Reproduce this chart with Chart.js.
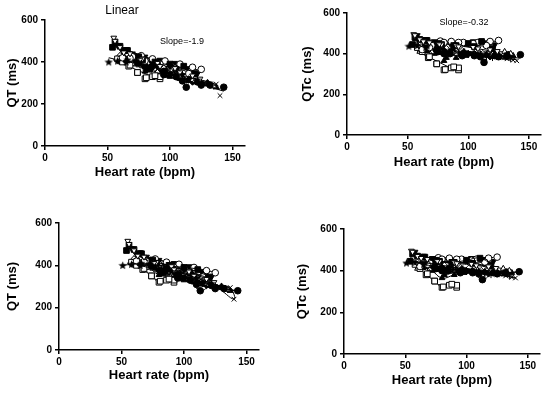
<!DOCTYPE html>
<html><head><meta charset="utf-8">
<script src="https://cdn.jsdelivr.net/npm/chart.js@4"></script>
<style>
body{margin:0;background:#fff;width:550px;height:393px;position:relative;overflow:hidden}
canvas{position:absolute}
</style></head><body>
<canvas id="c1" width="275" height="195" style="left:0;top:0"></canvas>
<canvas id="c2" width="275" height="195" style="left:275px;top:0"></canvas>
<canvas id="c3" width="275" height="198" style="left:0;top:195px"></canvas>
<canvas id="c4" width="275" height="198" style="left:275px;top:195px"></canvas>
<script>
// one row per subject, points in recording order (rest -> peak -> recovery)
const heartRate = [
  [51, 58, 66, 75, 86, 97, 110, 122, 130, 115, 95, 80, 65],
  [55, 56, 60, 68, 78, 90, 104, 118, 124, 108, 92, 76, 63],
  [54, 56, 60, 65, 75, 88, 100, 111, 120, 105, 90, 78, 66],
  [62, 70, 77, 86, 96, 108, 118, 125, 115, 104, 92, 80, 68],
  [60, 68, 80, 90, 100, 112, 122, 132, 137, 140, 125, 105, 85],
  [65, 75, 85, 95, 105, 113, 122, 132, 143, 125, 110, 95, 80],
  [58, 62, 67, 74, 80, 86, 92, 92, 88, 81, 74, 68],
  [58, 64, 70, 80, 92, 104, 114, 122, 116, 100, 85, 72, 62],
  [60, 70, 78, 88, 96, 108, 118, 130, 135, 120, 105, 90, 75],
  [63, 72, 80, 90, 98, 108, 115, 125, 133, 137, 120, 100, 82],
  [60, 66, 72, 80, 88, 96, 105, 115, 125, 118, 100, 85, 70],
  [57, 64, 70, 78, 85, 92, 100, 110, 120, 135, 115, 95, 80],
  [60, 70, 82, 95, 108, 120, 130, 112, 90, 72],
];
const qt = [
  [400, 405, 410, 400, 385, 365, 340, 315, 300, 320, 350, 375, 400],
  [515, 500, 470, 440, 415, 395, 370, 335, 320, 350, 380, 410, 445],
  [470, 495, 475, 455, 425, 400, 390, 380, 345, 365, 385, 410, 455],
  [420, 425, 430, 415, 405, 390, 375, 365, 345, 370, 390, 405, 418],
  [420, 405, 385, 365, 345, 325, 305, 295, 295, 240, 300, 340, 375],
  [410, 395, 375, 355, 330, 280, 305, 290, 280, 290, 310, 340, 380],
  [415, 400, 380, 350, 320, 330, 320, 330, 335, 325, 350, 385],
  [480, 460, 440, 425, 410, 395, 370, 345, 350, 380, 400, 430, 450],
  [400, 390, 380, 365, 350, 330, 315, 300, 285, 310, 335, 355, 385],
  [430, 390, 355, 345, 335, 320, 310, 300, 290, 280, 305, 330, 360],
  [415, 410, 400, 385, 370, 350, 330, 315, 295, 305, 340, 365, 395],
  [410, 400, 395, 385, 380, 365, 350, 330, 310, 285, 320, 355, 375],
  [430, 415, 395, 370, 345, 320, 300, 330, 370, 405],
];
const qtc = [
  [437, 440, 438, 430, 420, 410, 400, 392, 388, 395, 405, 415, 430],
  [495, 490, 470, 455, 445, 440, 432, 420, 412, 425, 435, 445, 460],
  [445, 480, 470, 465, 450, 440, 450, 460, 425, 435, 440, 445, 465],
  [420, 440, 462, 460, 455, 455, 460, 465, 440, 450, 455, 455, 430],
  [420, 415, 410, 405, 400, 395, 385, 375, 368, 365, 380, 395, 405],
  [420, 410, 400, 395, 390, 357, 390, 390, 395, 385, 385, 390, 400],
  [430, 410, 380, 350, 320, 330, 320, 330, 335, 322, 350, 385],
  [490, 470, 455, 455, 455, 460, 455, 445, 440, 450, 450, 460, 470],
  [410, 408, 405, 402, 400, 450, 420, 410, 400, 398, 395, 400, 405],
  [435, 400, 365, 380, 390, 392, 395, 395, 395, 390, 395, 400, 380],
  [425, 425, 420, 415, 410, 405, 400, 392, 385, 385, 398, 405, 415],
  [440, 430, 420, 410, 405, 400, 395, 390, 380, 375, 385, 395, 400],
  [440, 435, 425, 415, 405, 400, 395, 400, 410, 425],
];
const markers = ['star', 'triangle', 'rect', 'circle', 'crossRot', 'circle', 'rect', 'triangle', 'triangle', 'triangle', 'rectRot', 'cross', 'rectRot'];
const rotations = [0, 180, 0, 0, 0, 0, 0, 180, 0, 0, 0, 0, 0];
const filled = [true, false, true, false, true, true, false, true, false, true, true, true, false];
const xTicks = [0, 50, 100, 150];
const yTicks = [0, 200, 400, 600];

const FONT = "'Liberation Sans', Arial, sans-serif";

// small filled five-point star, Chart.js only has an asterisk
function starImage() {
  const c = document.createElement('canvas');
  c.width = 9; c.height = 9;
  const g = c.getContext('2d');
  g.beginPath();
  for (let i = 0; i < 10; i++) {
    const r = i % 2 ? 1.9 : 4.4;
    const a = -Math.PI / 2 + i * Math.PI / 5;
    g.lineTo(4.5 + r * Math.cos(a), 4.8 + r * Math.sin(a));
  }
  g.closePath();
  g.fillStyle = '#000';
  g.fill();
  return c;
}
const star = starImage();

function fit(xs, ys) {
  const n = xs.length;
  const mx = xs.reduce((a, b) => a + b) / n, my = ys.reduce((a, b) => a + b) / n;
  let sxy = 0, sxx = 0;
  xs.forEach((x, i) => { sxy += (x - mx) * (ys[i] - my); sxx += (x - mx) * (x - mx); });
  const b = sxy / sxx;
  return (x) => my + b * (x - mx);
}

function makeChart(id, values, mode, yTitle, box, notes) {
  const datasets = [];
  heartRate.forEach((hr, s) => {
    const pts = hr.map((x, i) => ({ x, y: values[s][i] }));
    datasets.push({
      data: pts,
      pointStyle: markers[s] === 'star' ? star : markers[s],
      rotation: rotations[s],
      pointRadius: markers[s] === 'rect' ? 4 : 3.3,
      borderColor: '#000',
      backgroundColor: filled[s] ? '#000' : '#fff',
      borderWidth: 1,
      showLine: mode === 'loop',
      tension: 0.45,
      order: 1,
    });
    if (mode === 'fit') {
      const f = fit(hr, values[s]);
      const lo = Math.min(...hr), hi = Math.max(...hr);
      datasets.push({
        data: [{ x: lo, y: f(lo) }, { x: hi, y: f(hi) }],
        showLine: true,
        pointRadius: 0,
        borderColor: '#000',
        borderWidth: 1,
        order: 2,
      });
    }
  });
  const axisCommon = {
    type: 'linear',
    grid: { drawOnChartArea: false, drawTicks: true, tickLength: 4, color: '#000', lineWidth: 1.5 },
    border: { color: '#000', width: 1.5 },
  };
  new Chart(document.getElementById(id), {
    type: 'scatter',
    data: { datasets },
    options: {
      responsive: false,
      animation: false,
      layout: { padding: { left: box.l, top: box.t, right: box.r, bottom: box.b } },
      plugins: { legend: { display: false }, tooltip: { enabled: false } },
      scales: {
        x: {
          ...axisCommon,
          min: 0, max: 160,
          afterBuildTicks: (s) => { s.ticks = xTicks.map((v) => ({ value: v })); },
          afterFit: (s) => { s.height = box.xh; },
          ticks: { color: '#000', padding: 2, font: { family: FONT, size: 10, weight: 'bold' } },
          title: { display: true, text: 'Heart rate (bpm)', color: '#000', padding: 4, font: { family: FONT, size: 13, weight: 'bold' } },
        },
        y: {
          ...axisCommon,
          min: 0, max: 600,
          afterBuildTicks: (s) => { s.ticks = yTicks.map((v) => ({ value: v })); },
          afterFit: (s) => { s.width = box.yw; },
          ticks: { color: '#000', padding: 3, font: { family: FONT, size: 10, weight: 'bold' } },
          title: { display: true, text: yTitle, color: '#000', padding: 4, font: { family: FONT, size: 13, weight: 'bold' } },
        },
      },
    },
    plugins: [{
      id: 'notes',
      afterDraw(chart) {
        const ctx = chart.ctx;
        ctx.save();
        ctx.fillStyle = '#000';
        ctx.textAlign = 'center';
        ctx.textBaseline = 'middle';
        notes.forEach((n) => {
          ctx.font = n.size + 'px ' + FONT;
          ctx.fillText(n.text, n.x, n.y);
        });
        ctx.restore();
      },
    }],
  });
}

makeChart('c1', qt, 'fit', 'QT (ms)', { l: 1, t: 20, r: 30, b: 11, yw: 44, xh: 38 },
  [{ text: 'Linear', x: 122, y: 11, size: 12 }, { text: 'Slope=-1.9', x: 182, y: 42, size: 9 }]);
makeChart('c2', qtc, 'fit', 'QTc (ms)', { l: 21, t: 13, r: 9, b: 21, yw: 51, xh: 39 },
  [{ text: 'Slope=-0.32', x: 189, y: 23, size: 9 }]);
makeChart('c3', qt, 'loop', 'QT (ms)', { l: 1, t: 28, r: 16, b: 6, yw: 58, xh: 37 }, []);
makeChart('c4', qtc, 'loop', 'QTc (ms)', { l: 16, t: 34, r: 10, b: 1, yw: 53, xh: 38 }, []);
</script>
</body></html>
